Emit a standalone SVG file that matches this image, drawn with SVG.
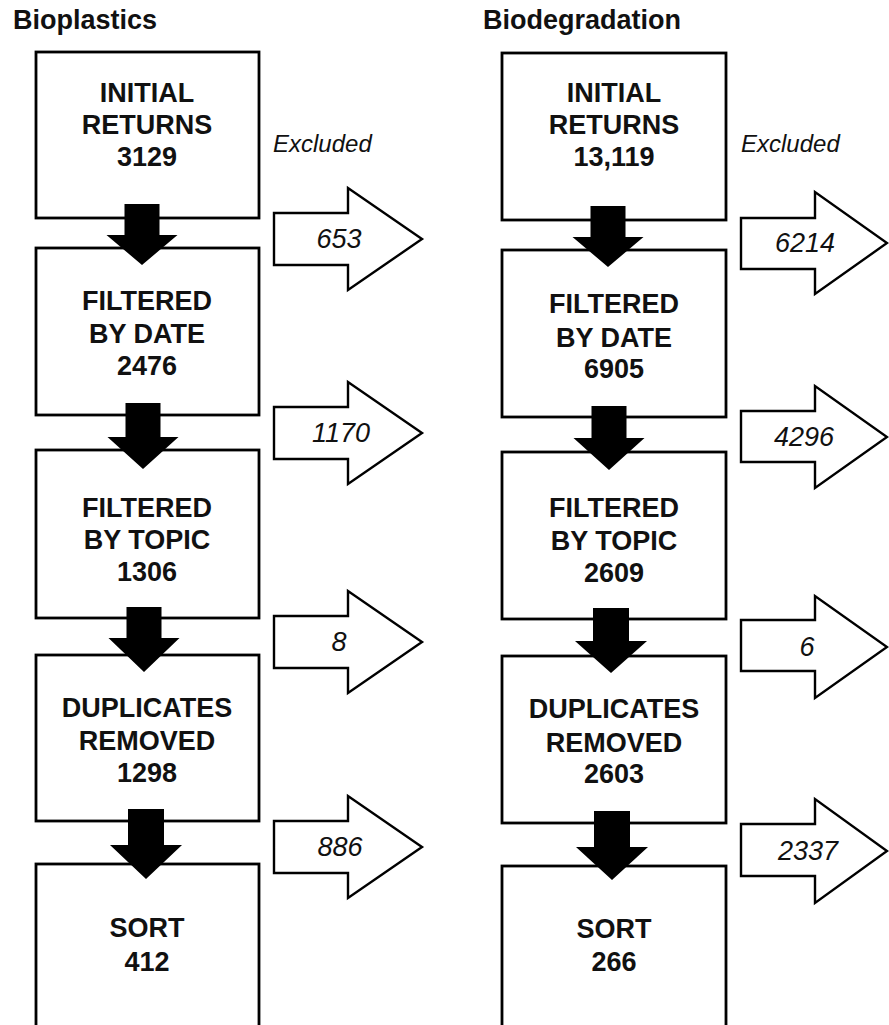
<svg xmlns="http://www.w3.org/2000/svg" width="889" height="1025" viewBox="0 0 889 1025">
<style>
.bg{fill:#fff}
.box{fill:#fff;stroke:#000;stroke-width:2.8}
.ex{fill:#fff;stroke:#000;stroke-width:2.4;stroke-linejoin:miter}
.down{fill:#000;stroke:none}
.title{font-family:"Liberation Sans",Arial,sans-serif;font-weight:bold;font-size:27px;fill:#111}
.lbl{font-family:"Liberation Sans",Arial,sans-serif;font-weight:bold;font-size:27px;fill:#111;text-anchor:middle}
.num{font-family:"Liberation Sans",Arial,sans-serif;font-style:italic;font-size:27px;fill:#111;text-anchor:middle}
.exl{font-family:"Liberation Sans",Arial,sans-serif;font-style:italic;font-size:24px;fill:#111}
</style>
<rect class="bg" x="0" y="0" width="889" height="1025"/>
<text class="title" x="13" y="29">Bioplastics</text>
<text class="title" x="483" y="29">Biodegradation</text>
<text class="exl" x="273" y="152">Excluded</text>
<text class="exl" x="741" y="152">Excluded</text>

<g id="b1-initial"><rect class="box" x="36" y="52" width="223" height="166"/>
<text class="lbl" x="147" y="102">INITIAL</text><text class="lbl" x="147" y="134">RETURNS</text><text class="lbl" x="147" y="166">3129</text></g>
<g id="b1-date"><rect class="box" x="36" y="248" width="223" height="167"/>
<text class="lbl" x="147" y="310">FILTERED</text><text class="lbl" x="147" y="343">BY DATE</text><text class="lbl" x="147" y="375">2476</text></g>
<g id="b1-topic"><rect class="box" x="36" y="450" width="223" height="168"/>
<text class="lbl" x="147" y="517">FILTERED</text><text class="lbl" x="147" y="549">BY TOPIC</text><text class="lbl" x="147" y="581">1306</text></g>
<g id="b1-dup"><rect class="box" x="36" y="655" width="223" height="166"/>
<text class="lbl" x="147" y="717">DUPLICATES</text><text class="lbl" x="147" y="750">REMOVED</text><text class="lbl" x="147" y="782">1298</text></g>
<g id="b1-sort"><rect class="box" x="36" y="864" width="223" height="200"/>
<text class="lbl" x="147" y="937">SORT</text><text class="lbl" x="147" y="971">412</text></g>

<g id="b2-initial"><rect class="box" x="502" y="53" width="224" height="167"/>
<text class="lbl" x="614" y="102">INITIAL</text><text class="lbl" x="614" y="134">RETURNS</text><text class="lbl" x="614" y="166">13,119</text></g>
<g id="b2-date"><rect class="box" x="502" y="250" width="224" height="167"/>
<text class="lbl" x="614" y="313">FILTERED</text><text class="lbl" x="614" y="347">BY DATE</text><text class="lbl" x="614" y="378">6905</text></g>
<g id="b2-topic"><rect class="box" x="502" y="452" width="224" height="167"/>
<text class="lbl" x="614" y="517">FILTERED</text><text class="lbl" x="614" y="550">BY TOPIC</text><text class="lbl" x="614" y="582">2609</text></g>
<g id="b2-dup"><rect class="box" x="502" y="656" width="224" height="167"/>
<text class="lbl" x="614" y="718">DUPLICATES</text><text class="lbl" x="614" y="752">REMOVED</text><text class="lbl" x="614" y="783">2603</text></g>
<g id="b2-sort"><rect class="box" x="502" y="866" width="224" height="200"/>
<text class="lbl" x="614" y="938">SORT</text><text class="lbl" x="614" y="971">266</text></g>

<g id="connectors">
<polygon class="down" points="124.5,204 159.5,204 159.5,235 177.5,235 142,265 106.5,235 124.5,235"/>
<polygon class="down" points="125.5,403 160.5,403 160.5,437 178.5,437 143,469 107.5,437 125.5,437"/>
<polygon class="down" points="126.5,607 161.5,607 161.5,638 179.5,638 144,672 108.5,638 126.5,638"/>
<polygon class="down" points="128,809 164,809 164,845 182,845 146,879 110,845 128,845"/>
<polygon class="down" points="590.5,206 625.5,206 625.5,237 643.5,237 608,267 572.5,237 590.5,237"/>
<polygon class="down" points="591.5,406 626.5,406 626.5,438 644.5,438 609,470 573.5,438 591.5,438"/>
<polygon class="down" points="593,608 629,608 629,641 647,641 611,673 575,641 593,641"/>
<polygon class="down" points="594,811 630,811 630,847 648,847 612,880 576,847 594,847"/>

<g id="ex1-1"><polygon class="ex" points="274,213 348,213 348,188 422,239 348,290 348,265 274,265"/><text class="num" x="339" y="248">653</text></g>
<g id="ex1-2"><polygon class="ex" points="274,407 348,407 348,382 422,433 348,484 348,459 274,459"/><text class="num" x="341" y="442">1170</text></g>
<g id="ex1-3"><polygon class="ex" points="274,616 348,616 348,591 422,642 348,693 348,668 274,668"/><text class="num" x="339" y="651">8</text></g>
<g id="ex1-4"><polygon class="ex" points="274,821 348,821 348,796 422,847 348,898 348,873 274,873"/><text class="num" x="340" y="856">886</text></g>
<g id="ex2-1"><polygon class="ex" points="741,218 815,218 815,192 887,243 815,294 815,269 741,269"/><text class="num" x="805" y="252">6214</text></g>
<g id="ex2-2"><polygon class="ex" points="741,411 815,411 815,386 887,437 815,488 815,462 741,462"/><text class="num" x="804" y="446">4296</text></g>
<g id="ex2-3"><polygon class="ex" points="741,620 815,620 815,596 887,647 815,698 815,671 741,671"/><text class="num" x="807" y="656">6</text></g>
<g id="ex2-4"><polygon class="ex" points="741,824 815,824 815,799 887,851 815,903 815,876 741,876"/><text class="num" x="808" y="860">2337</text></g>
</g>
</svg>
